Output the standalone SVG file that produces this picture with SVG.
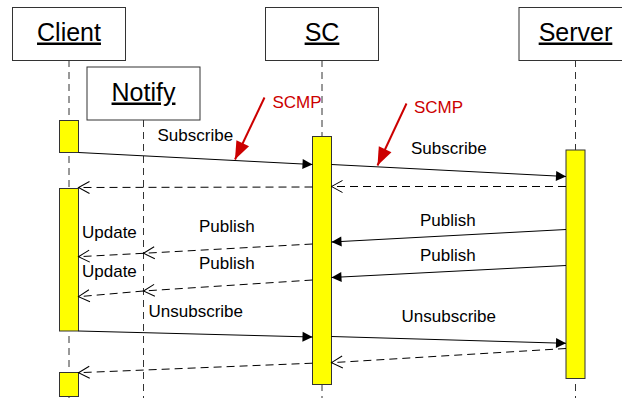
<svg xmlns="http://www.w3.org/2000/svg" width="622" height="398" viewBox="0 0 622 398">
<style>
.box{fill:#fff;stroke:#333;stroke-width:1}
.title{font-family:"Liberation Sans",Arial,sans-serif;font-size:25px;text-anchor:middle;text-decoration:underline;fill:#000}
.life{stroke:#333;stroke-width:1;stroke-dasharray:7,5;fill:none}
.bar{fill:#ffff00;stroke:#333;stroke-width:1}
.msg{stroke:#000;stroke-width:1;fill:none}
.ret{stroke:#000;stroke-width:1;fill:none;stroke-dasharray:8,5}
.lbl{font-family:"Liberation Sans",Arial,sans-serif;font-size:17px;fill:#000}
.red{stroke:#cc0000;stroke-width:2;fill:none}
.rlbl{font-family:"Liberation Sans",Arial,sans-serif;font-size:17px;fill:#cc0000}
</style>
<defs>
<marker id="filled" markerUnits="userSpaceOnUse" markerWidth="11" markerHeight="11" refX="10" refY="5" orient="auto" overflow="visible">
<path d="M0,0 L10,5 L0,10 z" fill="#000"/>
</marker>
<marker id="open" markerUnits="userSpaceOnUse" markerWidth="12" markerHeight="14" refX="11" refY="6" orient="auto" overflow="visible">
<path d="M0,0 L11,6 L0,12" fill="none" stroke="#000" stroke-width="1"/>
</marker>
<marker id="redhead" markerUnits="userSpaceOnUse" markerWidth="20" markerHeight="16" refX="18" refY="7" orient="auto" overflow="visible">
<path d="M0,0 L18,7 L0,14 z" fill="#cc0000"/>
</marker>
</defs>

<g id="lifelines">
<line class="life" x1="69" y1="60" x2="69" y2="398"/>
<line class="life" x1="143.5" y1="120" x2="143.5" y2="398"/>
<line class="life" x1="322" y1="60" x2="322" y2="398"/>
<line class="life" x1="575.5" y1="60" x2="575.5" y2="398"/>
</g>

<g id="client">
<rect class="box" x="12.5" y="7.5" width="113" height="53"/>
<text class="title" x="69" y="40.5">Client</text>
<rect class="bar" x="59.5" y="120.5" width="19" height="32"/>
<rect class="bar" x="59.5" y="188.5" width="19" height="142.5"/>
<rect class="bar" x="59.5" y="372.5" width="19" height="24"/>
</g>

<g id="notify">
<rect class="box" x="87" y="67" width="113" height="53"/>
<text class="title" x="143.5" y="100.5">Notify</text>
</g>

<g id="sc">
<rect class="box" x="265.5" y="7.5" width="113" height="53"/>
<text class="title" x="322" y="40.5">SC</text>
<rect class="bar" x="312.5" y="136.5" width="19" height="248"/>
</g>

<g id="server">
<rect class="box" x="519" y="7.5" width="113" height="53"/>
<text class="title" x="575.5" y="40.5">Server</text>
<rect class="bar" x="566" y="150" width="19" height="228.5"/>
</g>

<g id="connectors">
<line class="msg" x1="78.5" y1="152.5" x2="312.5" y2="164.5" marker-end="url(#filled)"/>
<line class="msg" x1="331.5" y1="164.5" x2="566" y2="176.5" marker-end="url(#filled)"/>
<line class="ret" x1="566" y1="186.5" x2="331.5" y2="186.5" marker-end="url(#open)"/>
<line class="ret" x1="312.5" y1="187" x2="78.5" y2="187.5" marker-end="url(#open)"/>

<line class="msg" x1="566" y1="229.5" x2="331.5" y2="242" marker-end="url(#filled)"/>
<line class="ret" x1="312.5" y1="244" x2="143.5" y2="253.3" marker-end="url(#open)"/>
<line class="ret" x1="143.5" y1="253.3" x2="78.5" y2="256.7" marker-end="url(#open)"/>

<line class="msg" x1="566" y1="265.5" x2="331.5" y2="277.5" marker-end="url(#filled)"/>
<line class="ret" x1="312.5" y1="280" x2="143.5" y2="291" marker-end="url(#open)"/>
<line class="ret" x1="143.5" y1="291" x2="78.5" y2="296.7" marker-end="url(#open)"/>

<line class="msg" x1="78.5" y1="331" x2="312.5" y2="337" marker-end="url(#filled)"/>
<line class="msg" x1="331.5" y1="336.5" x2="566" y2="343.3" marker-end="url(#filled)"/>
<line class="ret" x1="566" y1="348.5" x2="331.5" y2="362.7" marker-end="url(#open)"/>
<line class="ret" x1="312.5" y1="363.2" x2="78.5" y2="372.7" marker-end="url(#open)"/>

<line class="red" x1="264.5" y1="97.5" x2="235" y2="159.5" marker-end="url(#redhead)"/>
<line class="red" x1="406.5" y1="103.5" x2="377.5" y2="165.5" marker-end="url(#redhead)"/>

<text class="lbl" x="157.5" y="141">Subscribe</text>
<text class="lbl" x="411" y="153.5">Subscribe</text>
<text class="lbl" x="420" y="226">Publish</text>
<text class="lbl" x="199" y="231.5">Publish</text>
<text class="lbl" x="82" y="238">Update</text>
<text class="lbl" x="420" y="261">Publish</text>
<text class="lbl" x="199" y="268.5">Publish</text>
<text class="lbl" x="82" y="276.5">Update</text>
<text class="lbl" x="148.5" y="316.5">Unsubscribe</text>
<text class="lbl" x="401.5" y="322">Unsubscribe</text>
<text class="rlbl" x="272.5" y="107.5">SCMP</text>
<text class="rlbl" x="414" y="113">SCMP</text>
</g>
</svg>
